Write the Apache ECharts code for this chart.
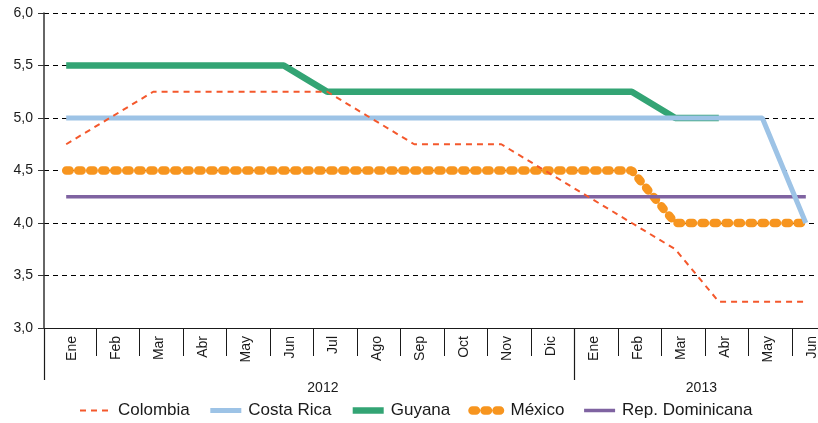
<!DOCTYPE html>
<html>
<head>
<meta charset="utf-8">
<script src="https://cdn.jsdelivr.net/npm/echarts@6/dist/echarts.min.js"></script>
<style>
  html, body { margin: 0; padding: 0; background: #fff; }
  #chart { width: 818px; height: 423px; }
</style>
</head>
<body>
<div id="chart"></div>
<script>
// meses (ene 2012 - jun 2013)
const months = ['Ene', 'Feb', 'Mar', 'Abr', 'May', 'Jun', 'Jul', 'Ago', 'Sep', 'Oct', 'Nov', 'Dic',
                'Ene', 'Feb', 'Mar', 'Abr', 'May', 'Jun']
const years = ['2012', '2013']
const yTicks = [3.0, 3.5, 4.0, 4.5, 5.0, 5.5, 6.0]

const colombia = [4.75, 5.0, 5.25, 5.25, 5.25, 5.25, 5.25, 5.0, 4.75, 4.75, 4.75, 4.5, 4.25, 4.0, 3.75, 3.25, 3.25, 3.25]
const costaRica = [5.0, 5.0, 5.0, 5.0, 5.0, 5.0, 5.0, 5.0, 5.0, 5.0, 5.0, 5.0, 5.0, 5.0, 5.0, 5.0, 5.0, 4.0]
const guyana = [5.5, 5.5, 5.5, 5.5, 5.5, 5.5, 5.25, 5.25, 5.25, 5.25, 5.25, 5.25, 5.25, 5.25, 5.0, 5.0, null, null]
const mexico = [4.5, 4.5, 4.5, 4.5, 4.5, 4.5, 4.5, 4.5, 4.5, 4.5, 4.5, 4.5, 4.5, 4.5, 4.0, 4.0, 4.0, 4.0]
const repDominicana = [4.25, 4.25, 4.25, 4.25, 4.25, 4.25, 4.25, 4.25, 4.25, 4.25, 4.25, 4.25, 4.25, 4.25, 4.25, 4.25, 4.25, 4.25]

const FONT = '"Liberation Sans", Arial, sans-serif'
const X_MIN = -0.51
const X_MAX = 17.28
const BOUND = 0.68   // limite entre meses respecto al punto del mes
const LABEL = 0.14

function toPairs(list) {
    return list.map((v, i) => [i, v]).filter(p => p[1] !== null)
}

const monthTicks = months.slice(0, -1).map((m, i) => i + BOUND)
const monthLabels = months.map((m, i) => i + LABEL)
const yearTicks = [X_MIN, 11 + BOUND]
const yearLabels = [5.9, 14.6]

// estilos de linea (se usan en serie y leyenda)
const styles = {
    'Colombia': { color: '#F4582C', width: 2, type: [6, 5] },
    'Costa Rica': { color: '#9DC3E6', width: 5, type: 'solid' },
    'Guyana': { color: '#33A474', width: 6.5, type: 'solid' },
    'México': { color: '#F7951F', width: 8.5, type: [3.5, 8.5], cap: 'round' },
    'Rep. Dominicana': { color: '#7F63A1', width: 3.5, type: 'solid' }
}
const names = ['Colombia', 'Costa Rica', 'Guyana', 'México', 'Rep. Dominicana']
const values = [colombia, costaRica, guyana, mexico, repDominicana]
const zs = [4, 3, 2, 2, 2]

const myChart = echarts.init(document.getElementById('chart'), null, { renderer: 'canvas' })

const option = {
    animation: false,
    textStyle: { fontFamily: FONT },
    grid: {
        left: 44,
        right: 0,
        top: 13,
        bottom: 95,
        outerBoundsMode: 'none'
    },
    legend: {
        left: 79,
        top: 402,
        padding: 0,
        itemWidth: 31,
        itemHeight: 12,
        itemGap: 18,
        textStyle: { fontSize: 17, color: '#1a1a1a', fontFamily: FONT, padding: [0, 0, 0, 2] },
        data: names.map(n => ({
            name: n,
            itemStyle: { opacity: 0 },
            lineStyle: Object.assign({}, styles[n])
        }))
    },
    xAxis: [
        {
            type: 'value',
            min: X_MIN,
            max: X_MAX,
            splitLine: { show: false },
            axisLine: { show: true, onZero: false, lineStyle: { color: '#1a1a1a', width: 1 } },
            axisTick: {
                show: true,
                customValues: monthTicks,
                length: 28,
                lineStyle: { color: '#1a1a1a', width: 1 }
            },
            axisLabel: {
                customValues: monthLabels,
                rotate: 90,
                margin: 8,
                fontSize: 14,
                color: '#1a1a1a',
                fontFamily: FONT,
                formatter: v => months[Math.round(v - LABEL)]
            }
        },
        {
            type: 'value',
            position: 'bottom',
            min: X_MIN,
            max: X_MAX,
            splitLine: { show: false },
            axisLine: { show: false, onZero: false },
            axisTick: {
                show: true,
                customValues: yearTicks,
                length: 52,
                lineStyle: { color: '#1a1a1a', width: 1.2 }
            },
            axisLabel: {
                customValues: yearLabels,
                margin: 53,
                fontSize: 14,
                color: '#1a1a1a',
                fontFamily: FONT,
                formatter: v => years[v < 11 + BOUND ? 0 : 1]
            }
        }
    ],
    yAxis: {
        type: 'value',
        min: yTicks[0],
        max: yTicks[yTicks.length - 1],
        interval: 0.5,
        axisLine: { show: true, onZero: false, lineStyle: { color: '#333', width: 1.5 } },
        axisTick: { show: true, length: 6, lineStyle: { color: '#333' } },
        axisLabel: {
            margin: 11,
            fontSize: 14,
            color: '#1a1a1a',
            fontFamily: FONT,
            formatter: v => v.toFixed(1).replace('.', ',')
        },
        splitLine: {
            show: true,
            lineStyle: { color: '#000', width: 1, type: [5, 4] }
        }
    },
    series: names.map((n, i) => ({
        name: n,
        type: 'line',
        symbol: 'none',
        z: zs[i],
        data: toPairs(values[i]),
        lineStyle: Object.assign({}, styles[n]),
        itemStyle: { color: styles[n].color }
    }))
}

myChart.setOption(option)
</script>
</body>
</html>
